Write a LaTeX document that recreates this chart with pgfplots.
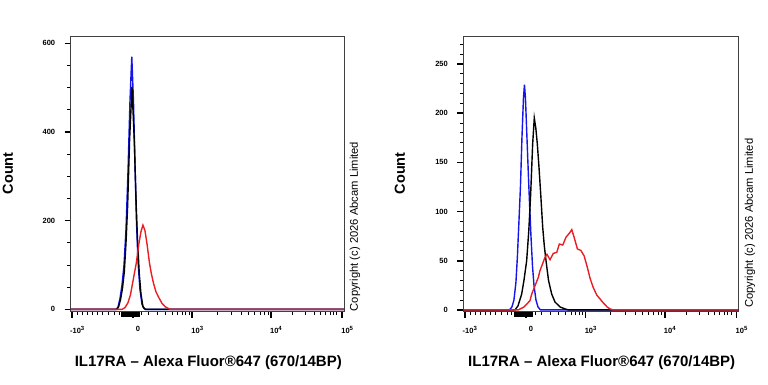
\documentclass[border=0pt]{standalone}
\usepackage{fontspec}
\setmainfont{Liberation Sans}
\usepackage{pgfplots}
\pgfplotsset{compat=1.18}

\definecolor{fcblue}{RGB}{20,20,235}
\definecolor{fcred}{RGB}{232,30,36}

\newcommand{\expo}[1]{\raisebox{3pt}{\fontsize{6}{6}\selectfont\bfseries #1}}

\pgfplotsset{
  flowaxis/.style={
    scale only axis,
    anchor=south west,
    xmin=-1.5, xmax=272.8,
    xtick pos=bottom, ytick pos=left,
    tick align=outside,
    major tick length=6pt, minor tick length=3.5pt,
    every major tick/.append style={black, line width=1.6pt},
    every minor tick/.append style={black, line width=0.9pt},
    axis line style={black!75, line width=0.9pt},
    xtick={0,61,120.5,199.5,271},
    xticklabels={{-10\expo{3}},{0},{10\expo{3}},{10\expo{4}},{10\expo{5}}},
    minor xtick={5.5,10.5,15.5,20.5,25.5,30.5,36.5,42.5,47,
                 70,76.5,85.5,93.5,100.5,106,110.5,114,117.3,
                 145.5,160,170,177,183.3,188.5,193,196.5,
                 221,234.3,243.3,249,254.3,259,262.3,265.6},
    extra x ticks={50,51.5,53,54.5,56,57.5,59,62.5,64,65.5,67},
    extra x tick labels={},
    extra x tick style={major tick length=5pt, every major tick/.append style={line width=1.4pt}},
    /pgf/number format/assume math mode=true,
    xticklabel style={font=\fontsize{7.5}{8}\selectfont\bfseries, xshift=5pt, yshift=-5pt},
    yticklabel style={font=\fontsize{7.5}{8}\selectfont\bfseries, xshift=-6pt},
    every axis plot/.append style={line width=1.4pt, no marks},
  }
}

\begin{document}
\begin{tikzpicture}
\useasboundingbox (0pt,0pt) rectangle (768pt,384pt);

% ---------- left panel ----------
\begin{axis}[flowaxis,
  at={(70.7pt,72.3pt)}, width=273.3pt, height=275pt,
  ymin=-5.3, ymax=615,
  ytick={0,200,400,600},
  minor ytick={50,100,150,250,300,350,450,500,550}]
\addplot[fcblue] coordinates {
 (-1.5,0) (44,0) (46,5) (48,25) (50,55) (52,100) (54,180) (56,310) (58,470)
 (59.8,570) (61.5,470) (63,330) (64.5,200) (66,110) (68,45) (70,12) (72,2) (74,0) (272.8,0)};
\addplot[black] coordinates {
 (-1.5,0) (45,0) (46.6,6) (48.5,22) (50.5,48) (52.3,85) (54,150) (55.6,231)
 (57.6,382) (60,502) (62.3,382) (64.3,231) (65.5,160) (67.3,81) (69,35) (71,6) (73.3,0) (272.8,0)};
\addplot[fcred] coordinates {
 (-1.5,0) (50,0) (53,4) (56,15) (58.5,33) (60.6,59) (64.3,104) (67,149) (69,175)
 (71,190) (73,178) (75,149) (77.6,104) (79.5,80) (81.6,59) (84,40) (86.6,28)
 (90,14) (93.3,6) (98.3,0) (272.8,0)};
\end{axis}

% ---------- right panel ----------
\begin{axis}[flowaxis,
  at={(463.3pt,72.3pt)}, width=275pt, height=275pt,
  ymin=-1.8, ymax=277.7,
  ytick={0,50,100,150,200,250},
  minor ytick={10,20,30,40,60,70,80,90,110,120,130,140,160,170,180,190,210,220,230,240,260,270}]
\addplot[fcblue] coordinates {
 (-1.5,0) (44.5,0) (47,3) (49,10) (51,28) (52.5,55) (54,90) (55.5,125) (57,175)
 (58.5,215) (59.5,229) (60.5,215) (62,175) (63.5,135) (64.5,110) (66,75)
 (67.5,45) (69,25) (71,10) (73,3) (75.5,0) (272.8,0)};
\addplot[black] coordinates {
 (-1.5,0) (50,0) (53,4) (56.7,16) (59,30) (61.7,50) (63.8,80) (65.7,118) (67.7,169)
 (69.3,195) (70.8,185) (72.3,169) (74,145) (75.7,118) (77.7,84) (79.3,65) (81,50)
 (83.5,30) (86.7,16) (90,8) (95,3) (100,1) (103.3,0) (272.8,0)};
\addplot[fcred] coordinates {
 (-1.5,0) (53.3,0) (59,3) (65,9.4) (66.7,16) (73.3,33) (75,40) (80,53.5) (82,56.5)
 (85,51) (88.3,57.5) (91.7,58.5) (94.3,67) (97.7,66) (101,74) (104.3,78)
 (106.7,81.6) (109,74) (112.3,62) (115.7,60.5) (119,55) (122.3,43) (125,32)
 (128,23) (131.7,15) (135,11) (138.3,7) (142,3) (145,1) (148,0) (272.8,0)};
\end{axis}

% ---------- texts ----------
\node[rotate=90, font=\fontsize{14.5}{16}\selectfont\bfseries] at (8pt,210.7pt) {Count};
\node[rotate=90, font=\fontsize{14.5}{16}\selectfont\bfseries] at (400pt,210.7pt) {Count};
\node[font=\fontsize{15}{16}\selectfont\bfseries] at (208.3pt,21.5pt) {IL17RA – Alexa Fluor®647 (670/14BP)};
\node[font=\fontsize{15}{16}\selectfont\bfseries] at (601.7pt,21.5pt) {IL17RA – Alexa Fluor®647 (670/14BP)};
\node[rotate=90, font=\fontsize{11.2}{12}\selectfont] at (355pt,157.5pt) {Copyright (c) 2026 Abcam Limited};
\node[rotate=90, font=\fontsize{11.2}{12}\selectfont] at (750pt,160.7pt) {Copyright (c) 2026 Abcam Limited};
\end{tikzpicture}
\end{document}
